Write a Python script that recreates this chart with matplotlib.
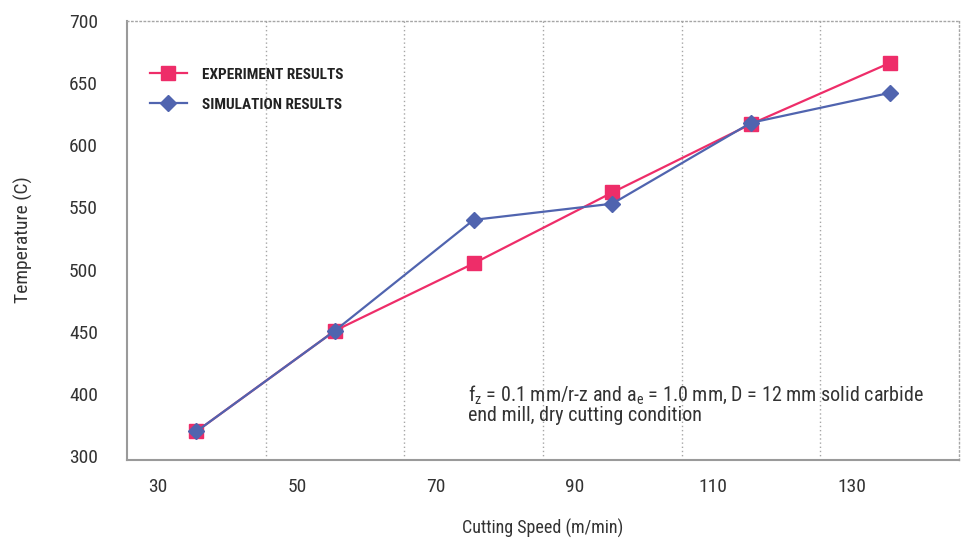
import matplotlib
matplotlib.use("Agg")
import matplotlib.pyplot as plt
from matplotlib import font_manager

# Cutting speed (m/min) for each test and measured / simulated temperatures (C)
speeds = [35.5, 55.5, 75.5, 95.5, 115.5, 135.5]
experiment = [370, 451, 505, 562, 617, 666]
simulation = [370, 451, 540, 553, 618, 642]

x_ticks = [30, 50, 70, 90, 110, 130]
x_grid = [45.5, 65.5, 85.5, 105.5, 125.5]
y_ticks = [350, 400, 450, 500, 550, 600, 650, 700]
y_tick_labels = ["300", "400", "450", "500", "550", "600", "650", "700"]

# prefer a narrow sans face when one is available
names = {f.name for f in font_manager.fontManager.ttflist}
base = "Roboto"
for cand in ("Roboto Condensed", "Liberation Sans Narrow", "Open Sans Condensed"):
    if cand in names:
        base = cand
        break
plt.rcParams["font.family"] = [base, "DejaVu Sans"]
plt.rcParams["mathtext.fontset"] = "custom"
plt.rcParams["mathtext.rm"] = base

PINK = "#EE2D69"
BLUE = "#5064AF"
TEXT = "#333333"
GRID = "#A6A6A6"

fig = plt.figure(figsize=(9.64, 5.38), dpi=100)
ax = fig.add_axes([0.1317, 0.1459, 0.8631, 0.8156])

ax.plot(speeds, experiment, color=PINK, lw=1.6, marker="s", ms=10,
        mec=PINK, mfc=PINK, label="EXPERIMENT RESULTS", zorder=3)
ax.plot(speeds, simulation, color=BLUE, lw=1.6, marker="D", ms=8.6,
        mec=BLUE, mfc=BLUE, label="SIMULATION RESULTS", zorder=4)

ax.set_xlim(25.5, 145.5)
ax.set_ylim(347.5, 700)

for g in x_grid:
    ax.axvline(g, color=GRID, lw=1.0, ls=(0, (1, 2)), zorder=1)

ax.set_xticks(x_ticks)
ax.set_xticklabels([str(v) for v in x_ticks])
ax.set_yticks(y_ticks)
ax.set_yticklabels(y_tick_labels)
ax.tick_params(axis="both", length=0, labelsize=14, labelcolor=TEXT)
ax.tick_params(axis="y", pad=21)
ax.tick_params(axis="x", pad=13)

for side in ("left", "bottom"):
    ax.spines[side].set_color("#9A9A9A")
    ax.spines[side].set_linewidth(1.5)
for side in ("top", "right"):
    ax.spines[side].set_color(GRID)
    ax.spines[side].set_linewidth(1.0)
    ax.spines[side].set_linestyle((0, (1, 2)))

ax.set_ylabel("Temperature (C)", fontsize=14, color=TEXT, labelpad=26)
ax.set_xlabel("Cutting Speed (m/min)", fontsize=13, color=TEXT, labelpad=17)

leg = ax.legend(loc="upper left", bbox_to_anchor=(0.0276, 0.893), frameon=False,
                handlelength=2.4, handletextpad=1.0, labelspacing=1.05,
                borderpad=0, borderaxespad=0,
                prop={"family": [base, "DejaVu Sans"], "weight": "bold", "size": 11})
for t in leg.get_texts():
    t.set_color("#222222")

ax.text(0.4095, 0.125,
        r"f$_{\rm z}$ = 0.1 mm/r-z and a$_{\rm e}$ = 1.0 mm, D = 12 mm solid carbide" "\n"
        "end mill, dry cutting condition",
        transform=ax.transAxes, fontsize=14.5, color=TEXT, va="center", ha="left",
        linespacing=1.0)

fig.savefig("out.png", dpi=100)
